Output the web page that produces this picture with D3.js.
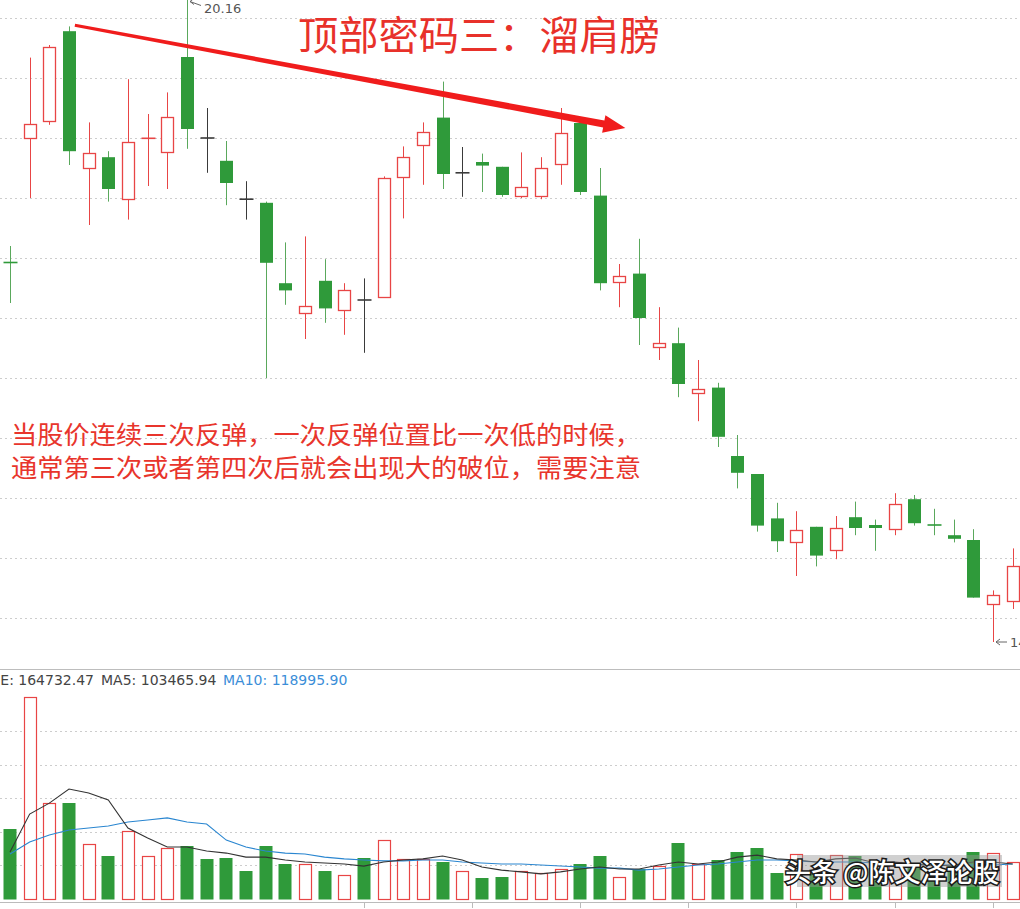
<!DOCTYPE html>
<html><head><meta charset="utf-8">
<script src="https://cdn.jsdelivr.net/npm/d3@7/dist/d3.min.js"></script>
<style>html,body{margin:0;padding:0;background:#fff;overflow:hidden}</style>
</head><body><div id="chart"></div>
<script>
// ---- data ----
const openP  = [17.965,19.00,19.14,19.89,18.75,18.84,18.49,18.995,18.88,19.675,19.00,18.81,18.49,18.46,17.79,17.54,17.81,17.57,17.65,17.675,18.675,18.94,19.17,18.71,18.80,18.76,18.52,18.52,18.78,19.125,18.52,17.80,17.87,17.26,17.29,16.875,16.92,16.35,16.20,15.83,15.63,15.76,15.57,15.84,15.775,15.74,15.99,15.78,15.69,15.65,15.12,15.14];
const highP  = [18.10,19.67,19.775,19.93,19.13,18.89,19.49,19.20,19.38,20.16,19.25,18.975,18.64,18.47,18.13,18.18,17.99,17.79,17.83,18.68,18.93,19.13,19.47,18.925,18.87,18.76,18.88,18.84,19.25,19.17,18.75,17.95,18.16,17.59,17.42,17.15,16.96,16.525,16.20,15.96,15.89,15.76,15.85,15.97,15.82,16.04,16.025,15.91,15.82,15.74,15.23,15.58];
const lowP   = [17.625,18.50,19.11,18.775,18.275,18.47,18.32,18.60,18.575,18.91,18.71,18.44,18.32,17.00,17.61,17.325,17.46,17.36,17.21,17.675,18.33,18.61,18.575,18.51,18.55,18.51,18.50,18.49,18.61,18.525,17.73,17.59,17.275,17.15,16.84,16.64,16.425,16.08,15.72,15.55,15.35,15.43,15.49,15.69,15.56,15.69,15.77,15.69,15.63,15.17,14.80,15.075];
const closeP = [17.96,19.12,19.76,18.89,18.875,18.575,18.97,19.00,19.175,19.075,19.00,18.625,18.49,17.96,17.73,17.60,17.58,17.73,17.65,18.67,18.84,19.05,18.70,18.71,18.77,18.525,18.59,18.75,19.04,18.55,17.79,17.85,17.50,17.29,16.95,16.91,16.51,16.21,15.77,15.64,15.73,15.52,15.75,15.75,15.75,15.95,15.79,15.77,15.66,15.17,15.19,15.43];
const volume = [312000,902000,429000,429000,246000,192000,304000,192000,228000,237000,179000,183000,125000,237000,156000,156000,125000,107000,183000,263000,179000,179000,165000,125000,94000,98000,125000,116000,134000,156000,192000,98000,134000,147000,250000,156000,174000,210000,228000,116000,201000,129000,196000,192000,138000,165000,147000,129000,147000,210000,205000,165000];
const ma5  = [210000,379000,428000,491000,473000,442000,317000,272000,232000,232000,214000,205000,187000,187000,174000,165000,161000,156000,147000,165000,174000,179000,192000,174000,143000,129000,121000,112000,121000,134000,143000,134000,134000,152000,165000,156000,165000,187000,196000,179000,174000,165000,179000,183000,161000,165000,156000,147000,152000,165000,165000,156000];
const ma10 = [201000,254000,286000,308000,317000,326000,344000,353000,362000,344000,335000,263000,232000,214000,205000,201000,187000,179000,174000,170000,170000,174000,174000,165000,161000,156000,156000,152000,147000,143000,138000,138000,129000,134000,143000,152000,156000,165000,174000,174000,170000,165000,165000,165000,161000,161000,156000,152000,152000,152000,152000,156000];
const priceTicks = [15,15.5,16,16.5,17,17.5,18,18.5,19,19.5,20];
const volTicks = [150000,300000,450000,600000,750000];
const dateTickIdx = [18,23.5,29,34.5,40,45,50];
const headerTexts = ["VOLUME: 164732.47","MA5: 103465.94","MA10: 118995.90"];
const titleText = "顶部密码三：溜肩膀";
const noteLines = ["当股价连续三次反弹，一次反弹位置比一次低的时候，","通常第三次或者第四次后就会出现大的破位，需要注意"];
const watermark = "头条 @陈文泽论股";
const maxLabel = "20.16", minLabel = "14.80";
const arrowFrom = [3.3, 19.94], arrowTo = [31.3, 19.083];

// ---- layout ----
const W = 1020, H = 909;
const RED = "#e84545", GREEN = "#2f9a3a", GREENW = "#5aa85c", GRAY = "#3a3a3a";
const svg = d3.select("#chart").append("svg").attr("width", W).attr("height", H)
  .style("display","block").style("background","#fff");

const x = d3.scaleLinear().domain([0, 51]).range([10, 1012.7]);
const y = d3.scaleLinear().domain([15, 20]).range([618, 18]);
const yv = d3.scaleLinear().domain([0, 750000]).range([899, 731]);

// grid lines
svg.append("g").selectAll("line").data(priceTicks).join("line")
  .attr("x1",0).attr("x2",W).attr("y1",d=>Math.round(y(d))+0.5).attr("y2",d=>Math.round(y(d))+0.5)
  .attr("stroke","#cdcdcd").attr("stroke-dasharray","2,3");
svg.append("g").selectAll("line").data(volTicks).join("line")
  .attr("x1",0).attr("x2",W).attr("y1",d=>Math.round(yv(d))+0.5).attr("y2",d=>Math.round(yv(d))+0.5)
  .attr("stroke","#cdcdcd").attr("stroke-dasharray","2,3");

// panel separator & bottom axis
svg.append("line").attr("x1",0).attr("x2",W).attr("y1",669.5).attr("y2",669.5).attr("stroke","#bdbdbd");
svg.append("line").attr("x1",0).attr("x2",W).attr("y1",902.5).attr("y2",902.5).attr("stroke","#bbbbbb");
svg.append("g").selectAll("line").data(dateTickIdx).join("line")
  .attr("x1",d=>Math.round(x(d))+0.5).attr("x2",d=>Math.round(x(d))+0.5).attr("y1",902).attr("y2",908)
  .attr("stroke","#bbbbbb");

// candles
const idx = d3.range(openP.length);
function dirOf(i){
  if (closeP[i] > openP[i]) return 1;
  if (closeP[i] < openP[i]) return -1;
  return 0;
}
const cg = svg.append("g");
idx.forEach(i => {
  const d = dirOf(i);
  const cx = Math.round(x(i)) + 0.5;
  const col = d > 0 ? RED : d < 0 ? GREEN : GRAY;
  const wcol = d > 0 ? RED : d < 0 ? GREENW : GRAY;
  cg.append("line").attr("x1",cx).attr("x2",cx)
    .attr("y1",y(highP[i])).attr("y2",y(lowP[i])).attr("stroke",wcol).attr("stroke-width",1);
  const yt = y(Math.max(openP[i],closeP[i])), yb = y(Math.min(openP[i],closeP[i]));
  if (yb - yt < 1.6) {
    cg.append("line").attr("x1",cx-7).attr("x2",cx+7).attr("y1",(yt+yb)/2).attr("y2",(yt+yb)/2)
      .attr("stroke",col).attr("stroke-width",1.6);
  } else if (d > 0) {
    cg.append("rect").attr("x",cx-6).attr("y",Math.round(yt)+0.5).attr("width",12)
      .attr("height",Math.max(1,Math.round(yb)-Math.round(yt)))
      .attr("fill","#fff").attr("stroke",RED).attr("stroke-width",1.3);
  } else {
    cg.append("rect").attr("x",cx-6.5).attr("y",yt).attr("width",13).attr("height",yb-yt)
      .attr("fill",GREEN);
  }
});

// max / min labels
const iMax = d3.maxIndex(highP), iMin = d3.minIndex(lowP);
function pointerLabel(i, v, txt, dy, ty){
  const px = Math.round(x(i)) + 1, py = Math.max(1.5, y(v));
  const g = svg.append("g");
  g.append("path").attr("d",`M${px+13},${py+dy} L${px+2},${py} M${px+2},${py} l4,-3 M${px+2},${py} l4,3`)
    .attr("fill","none").attr("stroke","#666").attr("stroke-width",1);
  g.append("text").attr("x",px+16).attr("y",py+ty).text(txt)
    .attr("font-family","DejaVu Sans, sans-serif").attr("font-size",13).attr("fill","#555");
}
pointerLabel(iMax, highP[iMax], maxLabel, 4, 11);
pointerLabel(iMin, lowP[iMin], minLabel, 0, 5);

// volume bars
const vg = svg.append("g");
idx.forEach(i => {
  let d = dirOf(i);
  if (d === 0) d = i > 0 ? (closeP[i] >= closeP[i-1] ? 1 : -1) : 1;
  const cx = Math.round(x(i));
  const top = Math.round(yv(volume[i]));
  if (d > 0) {
    vg.append("rect").attr("x",cx-6+0.5).attr("y",top+0.5).attr("width",12).attr("height",899-top)
      .attr("fill","#fff").attr("stroke",RED).attr("stroke-width",1.2);
  } else {
    vg.append("rect").attr("x",cx-6.5).attr("y",top).attr("width",13).attr("height",899.5-top)
      .attr("fill",GREEN);
  }
});

// MA lines
const line = (arr) => d3.line().x((d,i)=>x(i)).y(d=>yv(d))(arr);
svg.append("path").attr("d",line(ma10)).attr("fill","none").attr("stroke","#2a86d0").attr("stroke-width",1.1);
svg.append("path").attr("d",line(ma5)).attr("fill","none").attr("stroke","#333").attr("stroke-width",1.1);

// header
const hf = "DejaVu Sans, sans-serif";
svg.append("text").attr("x",94).attr("y",685).attr("text-anchor","end").text(headerTexts[0])
  .attr("font-family",hf).attr("font-size",14).attr("fill","#444");
svg.append("text").attr("x",101).attr("y",685).text(headerTexts[1])
  .attr("font-family",hf).attr("font-size",14).attr("fill","#444");
svg.append("text").attr("x",223).attr("y",685).text(headerTexts[2])
  .attr("font-family",hf).attr("font-size",14).attr("fill","#3b8ed8");

// big red arrow
(function(){
  const ax = x(arrowFrom[0]), ay = y(arrowFrom[1]);
  const tx = x(arrowTo[0]), ty = y(arrowTo[1]);
  const L = Math.hypot(tx-ax, ty-ay), ux = (tx-ax)/L, uy = (ty-ay)/L, nx = -uy, ny = ux;
  const bx = tx - ux*22, by = ty - uy*22;
  const pts = [
    [ax+nx*1.5, ay+ny*1.5],[bx+nx*3.5, by+ny*3.5],[bx+nx*9, by+ny*9],[tx,ty],
    [bx-nx*9, by-ny*9],[bx-nx*3.5, by-ny*3.5],[ax-nx*1.5, ay-ny*1.5]];
  svg.append("path").attr("d","M"+pts.map(p=>p.join(",")).join("L")+"Z").attr("fill","#f01c1c");
})();

// title
const cjk = "'Noto Sans CJK SC', sans-serif";
svg.append("text").attr("x",298).attr("y",50).text(titleText)
  .attr("font-family",cjk).attr("font-size",40).attr("fill","#e8312a")
  .attr("textLength",362).attr("lengthAdjust","spacingAndGlyphs");

// note
noteLines.forEach((t,k)=>{
  svg.append("text").attr("x",11).attr("y",[444,477][k]).text(t)
    .attr("font-family",cjk).attr("font-size",25).attr("fill","#e8352c")
    .attr("textLength",630).attr("lengthAdjust","spacingAndGlyphs");
});

// watermark
svg.append("rect").attr("x",797).attr("y",855).attr("width",205).attr("height",32)
  .attr("fill","rgba(150,150,150,0.45)");
svg.append("text").attr("x",785).attr("y",882).text(watermark)
  .attr("font-family",cjk).attr("font-size",26).attr("font-weight",500)
  .attr("fill","#fff").attr("stroke","#1a1a1a").attr("stroke-width",3).attr("paint-order","stroke")
  .attr("textLength",214).attr("lengthAdjust","spacingAndGlyphs");
</script></body></html>
